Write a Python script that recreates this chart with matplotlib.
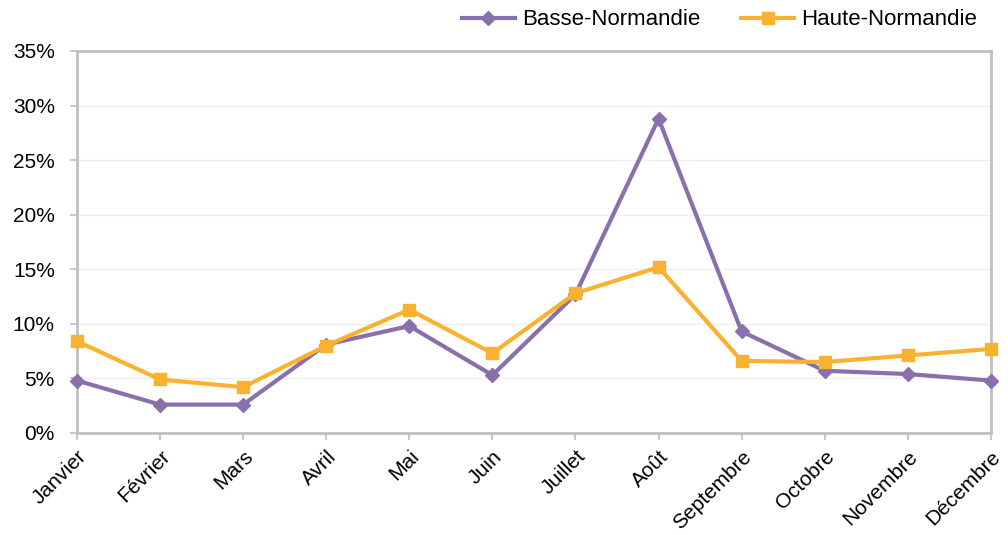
import matplotlib.pyplot as plt
import numpy as np
from matplotlib.ticker import FuncFormatter

MONTHS = ['Janvier', 'Février', 'Mars', 'Avril', 'Mai', 'Juin', 'Juillet',
          'Août', 'Septembre', 'Octobre', 'Novembre', 'Décembre']
BASSE = [4.8, 2.6, 2.6, 8.1, 9.8, 5.3, 12.7, 28.8, 9.3, 5.7, 5.4, 4.8]
HAUTE = [8.4, 4.9, 4.2, 8.0, 11.3, 7.3, 12.8, 15.2, 6.6, 6.5, 7.1, 7.7]

plt.rcParams['font.family'] = ['Liberation Sans', 'DejaVu Sans']

fig = plt.figure(figsize=(10.08, 5.35), dpi=100)
ax = fig.add_axes([0.0764, 0.1907, 0.9066, 0.714])

x = np.arange(len(MONTHS))
ax.plot(x, BASSE, color='#8a6fad', lw=3, marker='D', ms=7.5,
        label='Basse-Normandie', clip_on=False, zorder=3)
ax.plot(x, HAUTE, color='#f8b230', lw=3, marker='s', ms=8,
        label='Haute-Normandie', clip_on=False, zorder=3)

ax.set_xlim(0, 11)
ax.set_ylim(0, 35)
ax.set_yticks(np.arange(0, 36, 5))
ax.yaxis.set_major_formatter(FuncFormatter(lambda v, _: f'{v:.0f}%'))
ax.set_xticks(x)
ax.set_xticklabels(MONTHS, rotation=45, ha='right', rotation_mode='anchor')
ax.tick_params(labelsize=15, length=5, width=1.2, color='#bfbfbf',
               labelcolor='black')
ax.tick_params(axis='y', pad=11)
ax.tick_params(axis='x', pad=5)
ax.grid(axis='y', color='#efefef', lw=1)
ax.set_axisbelow(True)
for s in ax.spines.values():
    s.set_color('#c0c0c0')
    s.set_linewidth(2)

fig.legend(loc='center right', bbox_to_anchor=(977 / 1008, 0.963), ncol=2,
           frameon=False, fontsize=16, handlelength=2.4, columnspacing=1.85,
           handletextpad=0.3, borderpad=0, borderaxespad=0)

fig.savefig('out.png', dpi=100)
